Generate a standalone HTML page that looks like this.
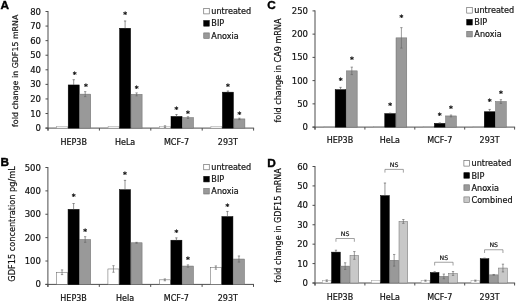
<!DOCTYPE html>
<html><head><meta charset="utf-8"><title>Figure</title>
<style>html,body{margin:0;padding:0;background:#fff}svg{display:block}</style></head>
<body><svg width="520" height="304" viewBox="0 0 520 304">
<rect width="520" height="304" fill="#fff"/>
<line x1="48" y1="11" x2="48" y2="130.6" stroke="#4d4d4d" stroke-width="1"/>
<line x1="45.5" y1="128.1" x2="254.1" y2="128.1" stroke="#4d4d4d" stroke-width="1"/>
<line x1="45.5" y1="128.1" x2="48" y2="128.1" stroke="#4d4d4d" stroke-width="1"/>
<text x="41" y="131.1" font-size="8.5" text-anchor="end" font-family="DejaVu Sans, Liberation Sans, sans-serif" stroke="#111" stroke-width="0.2" fill="#111">0</text>
<line x1="45.5" y1="113.52" x2="48" y2="113.52" stroke="#4d4d4d" stroke-width="1"/>
<text x="41" y="116.52" font-size="8.5" text-anchor="end" font-family="DejaVu Sans, Liberation Sans, sans-serif" stroke="#111" stroke-width="0.2" fill="#111">10</text>
<line x1="45.5" y1="98.95" x2="48" y2="98.95" stroke="#4d4d4d" stroke-width="1"/>
<text x="41" y="101.95" font-size="8.5" text-anchor="end" font-family="DejaVu Sans, Liberation Sans, sans-serif" stroke="#111" stroke-width="0.2" fill="#111">20</text>
<line x1="45.5" y1="84.38" x2="48" y2="84.38" stroke="#4d4d4d" stroke-width="1"/>
<text x="41" y="87.38" font-size="8.5" text-anchor="end" font-family="DejaVu Sans, Liberation Sans, sans-serif" stroke="#111" stroke-width="0.2" fill="#111">30</text>
<line x1="45.5" y1="69.8" x2="48" y2="69.8" stroke="#4d4d4d" stroke-width="1"/>
<text x="41" y="72.8" font-size="8.5" text-anchor="end" font-family="DejaVu Sans, Liberation Sans, sans-serif" stroke="#111" stroke-width="0.2" fill="#111">40</text>
<line x1="45.5" y1="55.22" x2="48" y2="55.22" stroke="#4d4d4d" stroke-width="1"/>
<text x="41" y="58.22" font-size="8.5" text-anchor="end" font-family="DejaVu Sans, Liberation Sans, sans-serif" stroke="#111" stroke-width="0.2" fill="#111">50</text>
<line x1="45.5" y1="40.65" x2="48" y2="40.65" stroke="#4d4d4d" stroke-width="1"/>
<text x="41" y="43.65" font-size="8.5" text-anchor="end" font-family="DejaVu Sans, Liberation Sans, sans-serif" stroke="#111" stroke-width="0.2" fill="#111">60</text>
<line x1="45.5" y1="26.07" x2="48" y2="26.07" stroke="#4d4d4d" stroke-width="1"/>
<text x="41" y="29.07" font-size="8.5" text-anchor="end" font-family="DejaVu Sans, Liberation Sans, sans-serif" stroke="#111" stroke-width="0.2" fill="#111">70</text>
<line x1="45.5" y1="11.5" x2="48" y2="11.5" stroke="#4d4d4d" stroke-width="1"/>
<text x="41" y="14.5" font-size="8.5" text-anchor="end" font-family="DejaVu Sans, Liberation Sans, sans-serif" stroke="#111" stroke-width="0.2" fill="#111">80</text>
<line x1="48" y1="128.1" x2="48" y2="130.6" stroke="#4d4d4d" stroke-width="1"/>
<line x1="99.4" y1="128.1" x2="99.4" y2="130.6" stroke="#4d4d4d" stroke-width="1"/>
<line x1="150.8" y1="128.1" x2="150.8" y2="130.6" stroke="#4d4d4d" stroke-width="1"/>
<line x1="202.2" y1="128.1" x2="202.2" y2="130.6" stroke="#4d4d4d" stroke-width="1"/>
<line x1="253.6" y1="128.1" x2="253.6" y2="130.6" stroke="#4d4d4d" stroke-width="1"/>
<text x="73.7" y="144.8" font-size="8.0" text-anchor="middle" font-family="DejaVu Sans, Liberation Sans, sans-serif" stroke="#111" stroke-width="0.2" fill="#111">HEP3B</text>
<text x="125.1" y="144.8" font-size="8.0" text-anchor="middle" font-family="DejaVu Sans, Liberation Sans, sans-serif" stroke="#111" stroke-width="0.2" fill="#111">HeLa</text>
<text x="176.5" y="144.8" font-size="8.0" text-anchor="middle" font-family="DejaVu Sans, Liberation Sans, sans-serif" stroke="#111" stroke-width="0.2" fill="#111">MCF-7</text>
<text x="227.9" y="144.8" font-size="8.0" text-anchor="middle" font-family="DejaVu Sans, Liberation Sans, sans-serif" stroke="#111" stroke-width="0.2" fill="#111">293T</text>
<rect x="56.7" y="126.64" width="11" height="1.46" fill="#fff" stroke="#9a9a9a" stroke-width="0.5"/>
<rect x="68.2" y="84.96" width="11" height="43.14" fill="#000" stroke="#000" stroke-width="0.5"/>
<line x1="73.7" y1="79.71" x2="73.7" y2="84.96" stroke="#5a5a5a" stroke-width="0.65"/>
<line x1="72.55" y1="79.71" x2="74.85" y2="79.71" stroke="#5a5a5a" stroke-width="0.65"/>
<text x="74.6" y="76.64" font-size="7.3" font-weight="bold" text-anchor="middle" font-family="DejaVu Sans, Liberation Sans, sans-serif" stroke="#111" stroke-width="0.2" fill="#000">*</text>
<rect x="79.7" y="94.14" width="11" height="33.96" fill="#999" stroke="#6a6a6a" stroke-width="0.5"/>
<line x1="85.2" y1="91.66" x2="85.2" y2="96.62" stroke="#666" stroke-width="0.65"/>
<line x1="84.05" y1="91.66" x2="86.35" y2="91.66" stroke="#666" stroke-width="0.65"/>
<line x1="84.05" y1="96.62" x2="86.35" y2="96.62" stroke="#666" stroke-width="0.65"/>
<text x="86" y="88.88" font-size="7.3" font-weight="bold" text-anchor="middle" font-family="DejaVu Sans, Liberation Sans, sans-serif" stroke="#111" stroke-width="0.2" fill="#000">*</text>
<rect x="108.1" y="126.64" width="11" height="1.46" fill="#fff" stroke="#9a9a9a" stroke-width="0.5"/>
<rect x="119.6" y="28.26" width="11" height="99.84" fill="#000" stroke="#000" stroke-width="0.5"/>
<line x1="125.1" y1="20.97" x2="125.1" y2="28.26" stroke="#5a5a5a" stroke-width="0.65"/>
<line x1="123.95" y1="20.97" x2="126.25" y2="20.97" stroke="#5a5a5a" stroke-width="0.65"/>
<text x="125.1" y="16.66" font-size="7.3" font-weight="bold" text-anchor="middle" font-family="DejaVu Sans, Liberation Sans, sans-serif" stroke="#111" stroke-width="0.2" fill="#000">*</text>
<rect x="131.1" y="94.36" width="11" height="33.74" fill="#999" stroke="#6a6a6a" stroke-width="0.5"/>
<line x1="136.6" y1="92.9" x2="136.6" y2="95.82" stroke="#666" stroke-width="0.65"/>
<line x1="135.45" y1="92.9" x2="137.75" y2="92.9" stroke="#666" stroke-width="0.65"/>
<line x1="135.45" y1="95.82" x2="137.75" y2="95.82" stroke="#666" stroke-width="0.65"/>
<text x="136.6" y="91.36" font-size="7.3" font-weight="bold" text-anchor="middle" font-family="DejaVu Sans, Liberation Sans, sans-serif" stroke="#111" stroke-width="0.2" fill="#000">*</text>
<rect x="159.5" y="126.64" width="11" height="1.46" fill="#fff" stroke="#9a9a9a" stroke-width="0.5"/>
<line x1="165" y1="125.77" x2="165" y2="127.52" stroke="#666" stroke-width="0.65"/>
<line x1="163.85" y1="125.77" x2="166.15" y2="125.77" stroke="#666" stroke-width="0.65"/>
<line x1="163.85" y1="127.52" x2="166.15" y2="127.52" stroke="#666" stroke-width="0.65"/>
<rect x="171" y="116.44" width="11" height="11.66" fill="#000" stroke="#000" stroke-width="0.5"/>
<line x1="176.5" y1="114.55" x2="176.5" y2="116.44" stroke="#5a5a5a" stroke-width="0.65"/>
<line x1="175.35" y1="114.55" x2="177.65" y2="114.55" stroke="#5a5a5a" stroke-width="0.65"/>
<text x="176.5" y="112.2" font-size="7.3" font-weight="bold" text-anchor="middle" font-family="DejaVu Sans, Liberation Sans, sans-serif" stroke="#111" stroke-width="0.2" fill="#000">*</text>
<rect x="182.5" y="117.61" width="11" height="10.49" fill="#999" stroke="#6a6a6a" stroke-width="0.5"/>
<line x1="188" y1="116.73" x2="188" y2="118.48" stroke="#666" stroke-width="0.65"/>
<line x1="186.85" y1="116.73" x2="189.15" y2="116.73" stroke="#666" stroke-width="0.65"/>
<line x1="186.85" y1="118.48" x2="189.15" y2="118.48" stroke="#666" stroke-width="0.65"/>
<text x="188" y="115.63" font-size="7.3" font-weight="bold" text-anchor="middle" font-family="DejaVu Sans, Liberation Sans, sans-serif" stroke="#111" stroke-width="0.2" fill="#000">*</text>
<rect x="210.9" y="126.64" width="11" height="1.46" fill="#fff" stroke="#9a9a9a" stroke-width="0.5"/>
<rect x="222.4" y="92.17" width="11" height="35.93" fill="#000" stroke="#000" stroke-width="0.5"/>
<line x1="227.9" y1="91.01" x2="227.9" y2="92.17" stroke="#5a5a5a" stroke-width="0.65"/>
<line x1="226.75" y1="91.01" x2="229.05" y2="91.01" stroke="#5a5a5a" stroke-width="0.65"/>
<text x="227.9" y="88.88" font-size="7.3" font-weight="bold" text-anchor="middle" font-family="DejaVu Sans, Liberation Sans, sans-serif" stroke="#111" stroke-width="0.2" fill="#000">*</text>
<rect x="233.9" y="118.92" width="11" height="9.18" fill="#999" stroke="#6a6a6a" stroke-width="0.5"/>
<line x1="239.4" y1="118.19" x2="239.4" y2="119.65" stroke="#666" stroke-width="0.65"/>
<line x1="238.25" y1="118.19" x2="240.55" y2="118.19" stroke="#666" stroke-width="0.65"/>
<line x1="238.25" y1="119.65" x2="240.55" y2="119.65" stroke="#666" stroke-width="0.65"/>
<text x="239.4" y="117.16" font-size="7.3" font-weight="bold" text-anchor="middle" font-family="DejaVu Sans, Liberation Sans, sans-serif" stroke="#111" stroke-width="0.2" fill="#000">*</text>
<text transform="translate(17.6 70.75) rotate(-90)" font-size="7.9" text-anchor="middle" font-family="DejaVu Sans, Liberation Sans, sans-serif" stroke="#111" stroke-width="0.2" fill="#111">fold change in GDF15 mRNA</text>
<text x="0.4" y="9" font-size="11.8" font-weight="bold" font-family="Liberation Sans, Arial, sans-serif" fill="#000" stroke="#000" stroke-width="0.4">A</text>
<rect x="203.75" y="8.4" width="5.5" height="5.5" fill="#fff" stroke="#5a5a5a" stroke-width="0.6"/>
<text x="211.35" y="14.2" font-size="8.1" font-family="DejaVu Sans, Liberation Sans, sans-serif" stroke="#111" stroke-width="0.2" fill="#111">untreated</text>
<rect x="203.75" y="20.65" width="5.5" height="5.5" fill="#000" stroke="#000" stroke-width="0.6"/>
<text x="211.35" y="26.45" font-size="8.1" font-family="DejaVu Sans, Liberation Sans, sans-serif" stroke="#111" stroke-width="0.2" fill="#111">BIP</text>
<rect x="203.75" y="32.9" width="5.5" height="5.5" fill="#999" stroke="#6a6a6a" stroke-width="0.6"/>
<text x="211.35" y="38.7" font-size="8.1" font-family="DejaVu Sans, Liberation Sans, sans-serif" stroke="#111" stroke-width="0.2" fill="#111">Anoxia</text>
<line x1="47.9" y1="167" x2="47.9" y2="286.9" stroke="#4d4d4d" stroke-width="1"/>
<line x1="45.4" y1="284.4" x2="254" y2="284.4" stroke="#4d4d4d" stroke-width="1"/>
<line x1="45.4" y1="284.4" x2="47.9" y2="284.4" stroke="#4d4d4d" stroke-width="1"/>
<text x="40.9" y="287.4" font-size="8.5" text-anchor="end" font-family="DejaVu Sans, Liberation Sans, sans-serif" stroke="#111" stroke-width="0.2" fill="#111">0</text>
<line x1="45.4" y1="261.02" x2="47.9" y2="261.02" stroke="#4d4d4d" stroke-width="1"/>
<text x="40.9" y="264.02" font-size="8.5" text-anchor="end" font-family="DejaVu Sans, Liberation Sans, sans-serif" stroke="#111" stroke-width="0.2" fill="#111">100</text>
<line x1="45.4" y1="237.64" x2="47.9" y2="237.64" stroke="#4d4d4d" stroke-width="1"/>
<text x="40.9" y="240.64" font-size="8.5" text-anchor="end" font-family="DejaVu Sans, Liberation Sans, sans-serif" stroke="#111" stroke-width="0.2" fill="#111">200</text>
<line x1="45.4" y1="214.26" x2="47.9" y2="214.26" stroke="#4d4d4d" stroke-width="1"/>
<text x="40.9" y="217.26" font-size="8.5" text-anchor="end" font-family="DejaVu Sans, Liberation Sans, sans-serif" stroke="#111" stroke-width="0.2" fill="#111">300</text>
<line x1="45.4" y1="190.88" x2="47.9" y2="190.88" stroke="#4d4d4d" stroke-width="1"/>
<text x="40.9" y="193.88" font-size="8.5" text-anchor="end" font-family="DejaVu Sans, Liberation Sans, sans-serif" stroke="#111" stroke-width="0.2" fill="#111">400</text>
<line x1="45.4" y1="167.5" x2="47.9" y2="167.5" stroke="#4d4d4d" stroke-width="1"/>
<text x="40.9" y="170.5" font-size="8.5" text-anchor="end" font-family="DejaVu Sans, Liberation Sans, sans-serif" stroke="#111" stroke-width="0.2" fill="#111">500</text>
<line x1="47.9" y1="284.4" x2="47.9" y2="286.9" stroke="#4d4d4d" stroke-width="1"/>
<line x1="99.3" y1="284.4" x2="99.3" y2="286.9" stroke="#4d4d4d" stroke-width="1"/>
<line x1="150.7" y1="284.4" x2="150.7" y2="286.9" stroke="#4d4d4d" stroke-width="1"/>
<line x1="202.1" y1="284.4" x2="202.1" y2="286.9" stroke="#4d4d4d" stroke-width="1"/>
<line x1="253.5" y1="284.4" x2="253.5" y2="286.9" stroke="#4d4d4d" stroke-width="1"/>
<text x="73.6" y="300.9" font-size="8.0" text-anchor="middle" font-family="DejaVu Sans, Liberation Sans, sans-serif" stroke="#111" stroke-width="0.2" fill="#111">HEP3B</text>
<text x="125" y="300.9" font-size="8.0" text-anchor="middle" font-family="DejaVu Sans, Liberation Sans, sans-serif" stroke="#111" stroke-width="0.2" fill="#111">Hela</text>
<text x="176.4" y="300.9" font-size="8.0" text-anchor="middle" font-family="DejaVu Sans, Liberation Sans, sans-serif" stroke="#111" stroke-width="0.2" fill="#111">MCF-7</text>
<text x="227.8" y="300.9" font-size="8.0" text-anchor="middle" font-family="DejaVu Sans, Liberation Sans, sans-serif" stroke="#111" stroke-width="0.2" fill="#111">293T</text>
<rect x="56.52" y="272.24" width="11.05" height="12.16" fill="#fff" stroke="#5a5a5a" stroke-width="0.5"/>
<line x1="62.05" y1="269.9" x2="62.05" y2="274.58" stroke="#666" stroke-width="0.65"/>
<line x1="60.9" y1="269.9" x2="63.2" y2="269.9" stroke="#666" stroke-width="0.65"/>
<line x1="60.9" y1="274.58" x2="63.2" y2="274.58" stroke="#666" stroke-width="0.65"/>
<rect x="68.07" y="209.35" width="11.05" height="75.05" fill="#000" stroke="#000" stroke-width="0.5"/>
<line x1="73.6" y1="203.51" x2="73.6" y2="209.35" stroke="#5a5a5a" stroke-width="0.65"/>
<line x1="72.45" y1="203.51" x2="74.75" y2="203.51" stroke="#5a5a5a" stroke-width="0.65"/>
<text x="73.6" y="198.72" font-size="7.3" font-weight="bold" text-anchor="middle" font-family="DejaVu Sans, Liberation Sans, sans-serif" stroke="#111" stroke-width="0.2" fill="#000">*</text>
<rect x="79.62" y="239.51" width="11.05" height="44.89" fill="#999" stroke="#6a6a6a" stroke-width="0.5"/>
<line x1="85.15" y1="236.7" x2="85.15" y2="242.32" stroke="#666" stroke-width="0.65"/>
<line x1="84" y1="236.7" x2="86.3" y2="236.7" stroke="#666" stroke-width="0.65"/>
<line x1="84" y1="242.32" x2="86.3" y2="242.32" stroke="#666" stroke-width="0.65"/>
<text x="85.15" y="234.49" font-size="7.3" font-weight="bold" text-anchor="middle" font-family="DejaVu Sans, Liberation Sans, sans-serif" stroke="#111" stroke-width="0.2" fill="#000">*</text>
<rect x="107.92" y="268.97" width="11.05" height="15.43" fill="#fff" stroke="#5a5a5a" stroke-width="0.5"/>
<line x1="113.45" y1="265.7" x2="113.45" y2="272.24" stroke="#666" stroke-width="0.65"/>
<line x1="112.3" y1="265.7" x2="114.6" y2="265.7" stroke="#666" stroke-width="0.65"/>
<line x1="112.3" y1="272.24" x2="114.6" y2="272.24" stroke="#666" stroke-width="0.65"/>
<rect x="119.47" y="189.71" width="11.05" height="94.69" fill="#000" stroke="#000" stroke-width="0.5"/>
<line x1="125" y1="180.36" x2="125" y2="189.71" stroke="#5a5a5a" stroke-width="0.65"/>
<line x1="123.85" y1="180.36" x2="126.15" y2="180.36" stroke="#5a5a5a" stroke-width="0.65"/>
<text x="125" y="176.98" font-size="7.3" font-weight="bold" text-anchor="middle" font-family="DejaVu Sans, Liberation Sans, sans-serif" stroke="#111" stroke-width="0.2" fill="#000">*</text>
<rect x="131.03" y="242.78" width="11.05" height="41.62" fill="#999" stroke="#6a6a6a" stroke-width="0.5"/>
<line x1="136.55" y1="242.32" x2="136.55" y2="243.25" stroke="#666" stroke-width="0.65"/>
<line x1="135.4" y1="242.32" x2="137.7" y2="242.32" stroke="#666" stroke-width="0.65"/>
<line x1="135.4" y1="243.25" x2="137.7" y2="243.25" stroke="#666" stroke-width="0.65"/>
<rect x="159.32" y="279.84" width="11.05" height="4.56" fill="#fff" stroke="#5a5a5a" stroke-width="0.5"/>
<line x1="164.85" y1="278.91" x2="164.85" y2="280.78" stroke="#666" stroke-width="0.65"/>
<line x1="163.7" y1="278.91" x2="166" y2="278.91" stroke="#666" stroke-width="0.65"/>
<line x1="163.7" y1="280.78" x2="166" y2="280.78" stroke="#666" stroke-width="0.65"/>
<rect x="170.88" y="240.21" width="11.05" height="44.19" fill="#000" stroke="#000" stroke-width="0.5"/>
<line x1="176.4" y1="237.87" x2="176.4" y2="240.21" stroke="#5a5a5a" stroke-width="0.65"/>
<line x1="175.25" y1="237.87" x2="177.55" y2="237.87" stroke="#5a5a5a" stroke-width="0.65"/>
<text x="176.4" y="235.19" font-size="7.3" font-weight="bold" text-anchor="middle" font-family="DejaVu Sans, Liberation Sans, sans-serif" stroke="#111" stroke-width="0.2" fill="#000">*</text>
<rect x="182.42" y="266.05" width="11.05" height="18.35" fill="#999" stroke="#6a6a6a" stroke-width="0.5"/>
<line x1="187.95" y1="264.88" x2="187.95" y2="267.22" stroke="#666" stroke-width="0.65"/>
<line x1="186.8" y1="264.88" x2="189.1" y2="264.88" stroke="#666" stroke-width="0.65"/>
<line x1="186.8" y1="267.22" x2="189.1" y2="267.22" stroke="#666" stroke-width="0.65"/>
<text x="187.95" y="261.61" font-size="7.3" font-weight="bold" text-anchor="middle" font-family="DejaVu Sans, Liberation Sans, sans-serif" stroke="#111" stroke-width="0.2" fill="#000">*</text>
<rect x="210.32" y="267.57" width="11.05" height="16.83" fill="#fff" stroke="#5a5a5a" stroke-width="0.5"/>
<line x1="215.85" y1="265.93" x2="215.85" y2="269.2" stroke="#666" stroke-width="0.65"/>
<line x1="214.7" y1="265.93" x2="217" y2="265.93" stroke="#666" stroke-width="0.65"/>
<line x1="214.7" y1="269.2" x2="217" y2="269.2" stroke="#666" stroke-width="0.65"/>
<rect x="221.88" y="216.6" width="11.05" height="67.8" fill="#000" stroke="#000" stroke-width="0.5"/>
<line x1="227.4" y1="211.45" x2="227.4" y2="216.6" stroke="#5a5a5a" stroke-width="0.65"/>
<line x1="226.25" y1="211.45" x2="228.55" y2="211.45" stroke="#5a5a5a" stroke-width="0.65"/>
<text x="227.4" y="208.77" font-size="7.3" font-weight="bold" text-anchor="middle" font-family="DejaVu Sans, Liberation Sans, sans-serif" stroke="#111" stroke-width="0.2" fill="#000">*</text>
<rect x="233.42" y="259.03" width="11.05" height="25.37" fill="#999" stroke="#6a6a6a" stroke-width="0.5"/>
<line x1="238.95" y1="255.99" x2="238.95" y2="262.07" stroke="#666" stroke-width="0.65"/>
<line x1="237.8" y1="255.99" x2="240.1" y2="255.99" stroke="#666" stroke-width="0.65"/>
<line x1="237.8" y1="262.07" x2="240.1" y2="262.07" stroke="#666" stroke-width="0.65"/>
<text transform="translate(14.6 224) rotate(-90)" font-size="8.2" text-anchor="middle" font-family="DejaVu Sans, Liberation Sans, sans-serif" stroke="#111" stroke-width="0.2" fill="#111">GDF15 concentration pg/mL</text>
<text x="0.4" y="166" font-size="11.8" font-weight="bold" font-family="Liberation Sans, Arial, sans-serif" fill="#000" stroke="#000" stroke-width="0.4">B</text>
<rect x="203.75" y="164.3" width="5.5" height="5.5" fill="#fff" stroke="#5a5a5a" stroke-width="0.6"/>
<text x="211.35" y="170.1" font-size="8.1" font-family="DejaVu Sans, Liberation Sans, sans-serif" stroke="#111" stroke-width="0.2" fill="#111">untreated</text>
<rect x="203.75" y="176.4" width="5.5" height="5.5" fill="#000" stroke="#000" stroke-width="0.6"/>
<text x="211.35" y="182.2" font-size="8.1" font-family="DejaVu Sans, Liberation Sans, sans-serif" stroke="#111" stroke-width="0.2" fill="#111">BIP</text>
<rect x="203.75" y="188.5" width="5.5" height="5.5" fill="#999" stroke="#6a6a6a" stroke-width="0.6"/>
<text x="211.35" y="194.3" font-size="8.1" font-family="DejaVu Sans, Liberation Sans, sans-serif" stroke="#111" stroke-width="0.2" fill="#111">Anoxia</text>
<line x1="315" y1="10.4" x2="315" y2="129.6" stroke="#4d4d4d" stroke-width="1"/>
<line x1="312.5" y1="127.1" x2="515.1" y2="127.1" stroke="#4d4d4d" stroke-width="1"/>
<line x1="312.5" y1="127.1" x2="315" y2="127.1" stroke="#4d4d4d" stroke-width="1"/>
<text x="308" y="130.1" font-size="8.5" text-anchor="end" font-family="DejaVu Sans, Liberation Sans, sans-serif" stroke="#111" stroke-width="0.2" fill="#111">0</text>
<line x1="312.5" y1="103.86" x2="315" y2="103.86" stroke="#4d4d4d" stroke-width="1"/>
<text x="308" y="106.86" font-size="8.5" text-anchor="end" font-family="DejaVu Sans, Liberation Sans, sans-serif" stroke="#111" stroke-width="0.2" fill="#111">50</text>
<line x1="312.5" y1="80.62" x2="315" y2="80.62" stroke="#4d4d4d" stroke-width="1"/>
<text x="308" y="83.62" font-size="8.5" text-anchor="end" font-family="DejaVu Sans, Liberation Sans, sans-serif" stroke="#111" stroke-width="0.2" fill="#111">100</text>
<line x1="312.5" y1="57.38" x2="315" y2="57.38" stroke="#4d4d4d" stroke-width="1"/>
<text x="308" y="60.38" font-size="8.5" text-anchor="end" font-family="DejaVu Sans, Liberation Sans, sans-serif" stroke="#111" stroke-width="0.2" fill="#111">150</text>
<line x1="312.5" y1="34.14" x2="315" y2="34.14" stroke="#4d4d4d" stroke-width="1"/>
<text x="308" y="37.14" font-size="8.5" text-anchor="end" font-family="DejaVu Sans, Liberation Sans, sans-serif" stroke="#111" stroke-width="0.2" fill="#111">200</text>
<line x1="312.5" y1="10.9" x2="315" y2="10.9" stroke="#4d4d4d" stroke-width="1"/>
<text x="308" y="13.9" font-size="8.5" text-anchor="end" font-family="DejaVu Sans, Liberation Sans, sans-serif" stroke="#111" stroke-width="0.2" fill="#111">250</text>
<line x1="315" y1="127.1" x2="315" y2="129.6" stroke="#4d4d4d" stroke-width="1"/>
<line x1="364.9" y1="127.1" x2="364.9" y2="129.6" stroke="#4d4d4d" stroke-width="1"/>
<line x1="414.8" y1="127.1" x2="414.8" y2="129.6" stroke="#4d4d4d" stroke-width="1"/>
<line x1="464.7" y1="127.1" x2="464.7" y2="129.6" stroke="#4d4d4d" stroke-width="1"/>
<line x1="514.6" y1="127.1" x2="514.6" y2="129.6" stroke="#4d4d4d" stroke-width="1"/>
<text x="339.95" y="143.3" font-size="8.0" text-anchor="middle" font-family="DejaVu Sans, Liberation Sans, sans-serif" stroke="#111" stroke-width="0.2" fill="#111">HEP3B</text>
<text x="389.85" y="143.3" font-size="8.0" text-anchor="middle" font-family="DejaVu Sans, Liberation Sans, sans-serif" stroke="#111" stroke-width="0.2" fill="#111">HeLa</text>
<text x="439.75" y="143.3" font-size="8.0" text-anchor="middle" font-family="DejaVu Sans, Liberation Sans, sans-serif" stroke="#111" stroke-width="0.2" fill="#111">MCF-7</text>
<text x="489.65" y="143.3" font-size="8.0" text-anchor="middle" font-family="DejaVu Sans, Liberation Sans, sans-serif" stroke="#111" stroke-width="0.2" fill="#111">293T</text>
<rect x="323.93" y="126.64" width="10.75" height="0.46" fill="#fff" stroke="#9a9a9a" stroke-width="0.5"/>
<rect x="335.18" y="89.68" width="10.75" height="37.42" fill="#000" stroke="#000" stroke-width="0.5"/>
<line x1="340.55" y1="87.36" x2="340.55" y2="89.68" stroke="#5a5a5a" stroke-width="0.65"/>
<line x1="339.4" y1="87.36" x2="341.7" y2="87.36" stroke="#5a5a5a" stroke-width="0.65"/>
<text x="340.55" y="83.1" font-size="7.3" font-weight="bold" text-anchor="middle" font-family="DejaVu Sans, Liberation Sans, sans-serif" stroke="#111" stroke-width="0.2" fill="#000">*</text>
<rect x="346.43" y="70.86" width="10.75" height="56.24" fill="#999" stroke="#6a6a6a" stroke-width="0.5"/>
<line x1="351.8" y1="67.14" x2="351.8" y2="74.58" stroke="#666" stroke-width="0.65"/>
<line x1="350.65" y1="67.14" x2="352.95" y2="67.14" stroke="#666" stroke-width="0.65"/>
<line x1="350.65" y1="74.58" x2="352.95" y2="74.58" stroke="#666" stroke-width="0.65"/>
<text x="351.8" y="62.18" font-size="7.3" font-weight="bold" text-anchor="middle" font-family="DejaVu Sans, Liberation Sans, sans-serif" stroke="#111" stroke-width="0.2" fill="#000">*</text>
<rect x="373.52" y="126.64" width="10.75" height="0.46" fill="#fff" stroke="#9a9a9a" stroke-width="0.5"/>
<rect x="384.77" y="113.62" width="10.75" height="13.48" fill="#000" stroke="#000" stroke-width="0.5"/>
<line x1="390.15" y1="113.16" x2="390.15" y2="113.62" stroke="#5a5a5a" stroke-width="0.65"/>
<line x1="389" y1="113.16" x2="391.3" y2="113.16" stroke="#5a5a5a" stroke-width="0.65"/>
<text x="390.15" y="108.06" font-size="7.3" font-weight="bold" text-anchor="middle" font-family="DejaVu Sans, Liberation Sans, sans-serif" stroke="#111" stroke-width="0.2" fill="#000">*</text>
<rect x="396.02" y="37.86" width="10.75" height="89.24" fill="#999" stroke="#6a6a6a" stroke-width="0.5"/>
<line x1="401.4" y1="27.63" x2="401.4" y2="48.08" stroke="#666" stroke-width="0.65"/>
<line x1="400.25" y1="27.63" x2="402.55" y2="27.63" stroke="#666" stroke-width="0.65"/>
<line x1="400.25" y1="48.08" x2="402.55" y2="48.08" stroke="#666" stroke-width="0.65"/>
<text x="401.4" y="19.79" font-size="7.3" font-weight="bold" text-anchor="middle" font-family="DejaVu Sans, Liberation Sans, sans-serif" stroke="#111" stroke-width="0.2" fill="#000">*</text>
<rect x="423.12" y="126.64" width="10.75" height="0.46" fill="#fff" stroke="#9a9a9a" stroke-width="0.5"/>
<rect x="434.38" y="123.38" width="10.75" height="3.72" fill="#000" stroke="#000" stroke-width="0.5"/>
<line x1="439.75" y1="122.92" x2="439.75" y2="123.38" stroke="#5a5a5a" stroke-width="0.65"/>
<line x1="438.6" y1="122.92" x2="440.9" y2="122.92" stroke="#5a5a5a" stroke-width="0.65"/>
<text x="439.75" y="117.63" font-size="7.3" font-weight="bold" text-anchor="middle" font-family="DejaVu Sans, Liberation Sans, sans-serif" stroke="#111" stroke-width="0.2" fill="#000">*</text>
<rect x="445.62" y="115.94" width="10.75" height="11.16" fill="#999" stroke="#6a6a6a" stroke-width="0.5"/>
<line x1="451" y1="115.02" x2="451" y2="116.87" stroke="#666" stroke-width="0.65"/>
<line x1="449.85" y1="115.02" x2="452.15" y2="115.02" stroke="#666" stroke-width="0.65"/>
<line x1="449.85" y1="116.87" x2="452.15" y2="116.87" stroke="#666" stroke-width="0.65"/>
<text x="451" y="111.17" font-size="7.3" font-weight="bold" text-anchor="middle" font-family="DejaVu Sans, Liberation Sans, sans-serif" stroke="#111" stroke-width="0.2" fill="#000">*</text>
<rect x="473.03" y="126.64" width="10.75" height="0.46" fill="#fff" stroke="#9a9a9a" stroke-width="0.5"/>
<rect x="484.28" y="111.76" width="10.75" height="15.34" fill="#000" stroke="#000" stroke-width="0.5"/>
<line x1="489.65" y1="109.44" x2="489.65" y2="111.76" stroke="#5a5a5a" stroke-width="0.65"/>
<line x1="488.5" y1="109.44" x2="490.8" y2="109.44" stroke="#5a5a5a" stroke-width="0.65"/>
<text x="489.65" y="104.2" font-size="7.3" font-weight="bold" text-anchor="middle" font-family="DejaVu Sans, Liberation Sans, sans-serif" stroke="#111" stroke-width="0.2" fill="#000">*</text>
<rect x="495.53" y="101.54" width="10.75" height="25.56" fill="#999" stroke="#6a6a6a" stroke-width="0.5"/>
<line x1="500.9" y1="99.68" x2="500.9" y2="103.4" stroke="#666" stroke-width="0.65"/>
<line x1="499.75" y1="99.68" x2="502.05" y2="99.68" stroke="#666" stroke-width="0.65"/>
<line x1="499.75" y1="103.4" x2="502.05" y2="103.4" stroke="#666" stroke-width="0.65"/>
<text x="500.9" y="95.83" font-size="7.3" font-weight="bold" text-anchor="middle" font-family="DejaVu Sans, Liberation Sans, sans-serif" stroke="#111" stroke-width="0.2" fill="#000">*</text>
<text transform="translate(281 70.5) rotate(-90)" font-size="8.1" text-anchor="middle" font-family="DejaVu Sans, Liberation Sans, sans-serif" stroke="#111" stroke-width="0.2" fill="#111">fold change in CA9 mRNA</text>
<text x="267.3" y="9" font-size="11.8" font-weight="bold" font-family="Liberation Sans, Arial, sans-serif" fill="#000" stroke="#000" stroke-width="0.4">C</text>
<rect x="466.75" y="7.6" width="5.5" height="5.5" fill="#fff" stroke="#5a5a5a" stroke-width="0.6"/>
<text x="474.35" y="13.4" font-size="8.1" font-family="DejaVu Sans, Liberation Sans, sans-serif" stroke="#111" stroke-width="0.2" fill="#111">untreated</text>
<rect x="466.75" y="19.5" width="5.5" height="5.5" fill="#000" stroke="#000" stroke-width="0.6"/>
<text x="474.35" y="25.3" font-size="8.1" font-family="DejaVu Sans, Liberation Sans, sans-serif" stroke="#111" stroke-width="0.2" fill="#111">BIP</text>
<rect x="466.75" y="31.4" width="5.5" height="5.5" fill="#999" stroke="#6a6a6a" stroke-width="0.6"/>
<text x="474.35" y="37.2" font-size="8.1" font-family="DejaVu Sans, Liberation Sans, sans-serif" stroke="#111" stroke-width="0.2" fill="#111">Anoxia</text>
<line x1="315" y1="166" x2="315" y2="285.5" stroke="#4d4d4d" stroke-width="1"/>
<line x1="312.5" y1="283" x2="515.1" y2="283" stroke="#4d4d4d" stroke-width="1"/>
<line x1="312.5" y1="283" x2="315" y2="283" stroke="#4d4d4d" stroke-width="1"/>
<text x="308" y="286" font-size="8.5" text-anchor="end" font-family="DejaVu Sans, Liberation Sans, sans-serif" stroke="#111" stroke-width="0.2" fill="#111">0</text>
<line x1="312.5" y1="263.58" x2="315" y2="263.58" stroke="#4d4d4d" stroke-width="1"/>
<text x="308" y="266.58" font-size="8.5" text-anchor="end" font-family="DejaVu Sans, Liberation Sans, sans-serif" stroke="#111" stroke-width="0.2" fill="#111">10</text>
<line x1="312.5" y1="244.17" x2="315" y2="244.17" stroke="#4d4d4d" stroke-width="1"/>
<text x="308" y="247.17" font-size="8.5" text-anchor="end" font-family="DejaVu Sans, Liberation Sans, sans-serif" stroke="#111" stroke-width="0.2" fill="#111">20</text>
<line x1="312.5" y1="224.75" x2="315" y2="224.75" stroke="#4d4d4d" stroke-width="1"/>
<text x="308" y="227.75" font-size="8.5" text-anchor="end" font-family="DejaVu Sans, Liberation Sans, sans-serif" stroke="#111" stroke-width="0.2" fill="#111">30</text>
<line x1="312.5" y1="205.33" x2="315" y2="205.33" stroke="#4d4d4d" stroke-width="1"/>
<text x="308" y="208.33" font-size="8.5" text-anchor="end" font-family="DejaVu Sans, Liberation Sans, sans-serif" stroke="#111" stroke-width="0.2" fill="#111">40</text>
<line x1="312.5" y1="185.92" x2="315" y2="185.92" stroke="#4d4d4d" stroke-width="1"/>
<text x="308" y="188.92" font-size="8.5" text-anchor="end" font-family="DejaVu Sans, Liberation Sans, sans-serif" stroke="#111" stroke-width="0.2" fill="#111">50</text>
<line x1="312.5" y1="166.5" x2="315" y2="166.5" stroke="#4d4d4d" stroke-width="1"/>
<text x="308" y="169.5" font-size="8.5" text-anchor="end" font-family="DejaVu Sans, Liberation Sans, sans-serif" stroke="#111" stroke-width="0.2" fill="#111">60</text>
<line x1="315" y1="283" x2="315" y2="285.5" stroke="#4d4d4d" stroke-width="1"/>
<line x1="364.9" y1="283" x2="364.9" y2="285.5" stroke="#4d4d4d" stroke-width="1"/>
<line x1="414.8" y1="283" x2="414.8" y2="285.5" stroke="#4d4d4d" stroke-width="1"/>
<line x1="464.7" y1="283" x2="464.7" y2="285.5" stroke="#4d4d4d" stroke-width="1"/>
<line x1="514.6" y1="283" x2="514.6" y2="285.5" stroke="#4d4d4d" stroke-width="1"/>
<text x="339.95" y="299.8" font-size="8.0" text-anchor="middle" font-family="DejaVu Sans, Liberation Sans, sans-serif" stroke="#111" stroke-width="0.2" fill="#111">HEP3B</text>
<text x="389.85" y="299.8" font-size="8.0" text-anchor="middle" font-family="DejaVu Sans, Liberation Sans, sans-serif" stroke="#111" stroke-width="0.2" fill="#111">HeLa</text>
<text x="439.75" y="299.8" font-size="8.0" text-anchor="middle" font-family="DejaVu Sans, Liberation Sans, sans-serif" stroke="#111" stroke-width="0.2" fill="#111">MCF-7</text>
<text x="489.65" y="299.8" font-size="8.0" text-anchor="middle" font-family="DejaVu Sans, Liberation Sans, sans-serif" stroke="#111" stroke-width="0.2" fill="#111">293T</text>
<rect x="322.4" y="280.67" width="8.7" height="2.33" fill="#fff" stroke="#9a9a9a" stroke-width="0.5"/>
<line x1="326.75" y1="279.89" x2="326.75" y2="281.45" stroke="#666" stroke-width="0.65"/>
<line x1="325.6" y1="279.89" x2="327.9" y2="279.89" stroke="#666" stroke-width="0.65"/>
<line x1="325.6" y1="281.45" x2="327.9" y2="281.45" stroke="#666" stroke-width="0.65"/>
<rect x="331.6" y="252.13" width="8.7" height="30.87" fill="#000" stroke="#000" stroke-width="0.5"/>
<line x1="335.95" y1="250.19" x2="335.95" y2="252.13" stroke="#5a5a5a" stroke-width="0.65"/>
<line x1="334.8" y1="250.19" x2="337.1" y2="250.19" stroke="#5a5a5a" stroke-width="0.65"/>
<rect x="340.8" y="266.11" width="8.7" height="16.89" fill="#999" stroke="#6a6a6a" stroke-width="0.5"/>
<line x1="345.15" y1="262.81" x2="345.15" y2="269.41" stroke="#666" stroke-width="0.65"/>
<line x1="344" y1="262.81" x2="346.3" y2="262.81" stroke="#666" stroke-width="0.65"/>
<line x1="344" y1="269.41" x2="346.3" y2="269.41" stroke="#666" stroke-width="0.65"/>
<rect x="350" y="255.43" width="8.7" height="27.57" fill="#c8c8c8" stroke="#6e6e6e" stroke-width="0.5"/>
<line x1="354.35" y1="251.55" x2="354.35" y2="259.31" stroke="#666" stroke-width="0.65"/>
<line x1="353.2" y1="251.55" x2="355.5" y2="251.55" stroke="#666" stroke-width="0.65"/>
<line x1="353.2" y1="259.31" x2="355.5" y2="259.31" stroke="#666" stroke-width="0.65"/>
<rect x="371.4" y="280.67" width="8.7" height="2.33" fill="#fff" stroke="#9a9a9a" stroke-width="0.5"/>
<rect x="380.6" y="195.62" width="8.7" height="87.38" fill="#000" stroke="#000" stroke-width="0.5"/>
<line x1="384.95" y1="183" x2="384.95" y2="195.62" stroke="#5a5a5a" stroke-width="0.65"/>
<line x1="383.8" y1="183" x2="386.1" y2="183" stroke="#5a5a5a" stroke-width="0.65"/>
<rect x="389.8" y="260.28" width="8.7" height="22.72" fill="#999" stroke="#6a6a6a" stroke-width="0.5"/>
<line x1="394.15" y1="254.46" x2="394.15" y2="266.11" stroke="#666" stroke-width="0.65"/>
<line x1="393" y1="254.46" x2="395.3" y2="254.46" stroke="#666" stroke-width="0.65"/>
<line x1="393" y1="266.11" x2="395.3" y2="266.11" stroke="#666" stroke-width="0.65"/>
<rect x="399" y="221.45" width="8.7" height="61.55" fill="#c8c8c8" stroke="#6e6e6e" stroke-width="0.5"/>
<line x1="403.35" y1="219.51" x2="403.35" y2="223.39" stroke="#666" stroke-width="0.65"/>
<line x1="402.2" y1="219.51" x2="404.5" y2="219.51" stroke="#666" stroke-width="0.65"/>
<line x1="402.2" y1="223.39" x2="404.5" y2="223.39" stroke="#666" stroke-width="0.65"/>
<rect x="421.1" y="280.67" width="8.7" height="2.33" fill="#fff" stroke="#9a9a9a" stroke-width="0.5"/>
<line x1="425.45" y1="280.09" x2="425.45" y2="281.25" stroke="#666" stroke-width="0.65"/>
<line x1="424.3" y1="280.09" x2="426.6" y2="280.09" stroke="#666" stroke-width="0.65"/>
<line x1="424.3" y1="281.25" x2="426.6" y2="281.25" stroke="#666" stroke-width="0.65"/>
<rect x="430.3" y="272.51" width="8.7" height="10.49" fill="#000" stroke="#000" stroke-width="0.5"/>
<line x1="434.65" y1="271.74" x2="434.65" y2="272.51" stroke="#5a5a5a" stroke-width="0.65"/>
<line x1="433.5" y1="271.74" x2="435.8" y2="271.74" stroke="#5a5a5a" stroke-width="0.65"/>
<rect x="439.5" y="276.4" width="8.7" height="6.6" fill="#999" stroke="#6a6a6a" stroke-width="0.5"/>
<line x1="443.85" y1="274.07" x2="443.85" y2="278.73" stroke="#666" stroke-width="0.65"/>
<line x1="442.7" y1="274.07" x2="445" y2="274.07" stroke="#666" stroke-width="0.65"/>
<line x1="442.7" y1="278.73" x2="445" y2="278.73" stroke="#666" stroke-width="0.65"/>
<rect x="448.7" y="273.49" width="8.7" height="9.51" fill="#c8c8c8" stroke="#6e6e6e" stroke-width="0.5"/>
<line x1="453.05" y1="271.54" x2="453.05" y2="275.43" stroke="#666" stroke-width="0.65"/>
<line x1="451.9" y1="271.54" x2="454.2" y2="271.54" stroke="#666" stroke-width="0.65"/>
<line x1="451.9" y1="275.43" x2="454.2" y2="275.43" stroke="#666" stroke-width="0.65"/>
<rect x="471" y="280.67" width="8.7" height="2.33" fill="#fff" stroke="#9a9a9a" stroke-width="0.5"/>
<line x1="475.35" y1="280.09" x2="475.35" y2="281.25" stroke="#666" stroke-width="0.65"/>
<line x1="474.2" y1="280.09" x2="476.5" y2="280.09" stroke="#666" stroke-width="0.65"/>
<line x1="474.2" y1="281.25" x2="476.5" y2="281.25" stroke="#666" stroke-width="0.65"/>
<rect x="480.2" y="258.73" width="8.7" height="24.27" fill="#000" stroke="#000" stroke-width="0.5"/>
<line x1="484.55" y1="258.15" x2="484.55" y2="258.73" stroke="#5a5a5a" stroke-width="0.65"/>
<line x1="483.4" y1="258.15" x2="485.7" y2="258.15" stroke="#5a5a5a" stroke-width="0.65"/>
<rect x="489.4" y="274.85" width="8.7" height="8.16" fill="#999" stroke="#6a6a6a" stroke-width="0.5"/>
<line x1="493.75" y1="274.46" x2="493.75" y2="275.23" stroke="#666" stroke-width="0.65"/>
<line x1="492.6" y1="274.46" x2="494.9" y2="274.46" stroke="#666" stroke-width="0.65"/>
<line x1="492.6" y1="275.23" x2="494.9" y2="275.23" stroke="#666" stroke-width="0.65"/>
<rect x="498.6" y="268.05" width="8.7" height="14.95" fill="#c8c8c8" stroke="#6e6e6e" stroke-width="0.5"/>
<line x1="502.95" y1="264.17" x2="502.95" y2="271.93" stroke="#666" stroke-width="0.65"/>
<line x1="501.8" y1="264.17" x2="504.1" y2="264.17" stroke="#666" stroke-width="0.65"/>
<line x1="501.8" y1="271.93" x2="504.1" y2="271.93" stroke="#666" stroke-width="0.65"/>
<path d="M335.95 241.75V238.5H354.35V241.75" fill="none" stroke="#707070" stroke-width="0.65"/>
<text x="345.15" y="236.2" font-size="6.2" text-anchor="middle" font-family="DejaVu Sans, Liberation Sans, sans-serif" stroke="#111" stroke-width="0.2" fill="#111">NS</text>
<path d="M384.95 172.6V169.4H403.35V172.6" fill="none" stroke="#707070" stroke-width="0.65"/>
<text x="394.15" y="167.1" font-size="6.2" text-anchor="middle" font-family="DejaVu Sans, Liberation Sans, sans-serif" stroke="#111" stroke-width="0.2" fill="#111">NS</text>
<path d="M434.65 265.5V262.25H453.05V265.5" fill="none" stroke="#707070" stroke-width="0.65"/>
<text x="443.85" y="259.95" font-size="6.2" text-anchor="middle" font-family="DejaVu Sans, Liberation Sans, sans-serif" stroke="#111" stroke-width="0.2" fill="#111">NS</text>
<path d="M484.55 253V249.75H502.95V253" fill="none" stroke="#707070" stroke-width="0.65"/>
<text x="493.75" y="247.45" font-size="6.2" text-anchor="middle" font-family="DejaVu Sans, Liberation Sans, sans-serif" stroke="#111" stroke-width="0.2" fill="#111">NS</text>
<text transform="translate(280.8 225.4) rotate(-90)" font-size="8.05" text-anchor="middle" font-family="DejaVu Sans, Liberation Sans, sans-serif" stroke="#111" stroke-width="0.2" fill="#111">fold change in GDF15 mRNA</text>
<text x="267.3" y="166.6" font-size="11.8" font-weight="bold" font-family="Liberation Sans, Arial, sans-serif" fill="#000" stroke="#000" stroke-width="0.4">D</text>
<rect x="463.9" y="160.6" width="5.5" height="5.5" fill="#fff" stroke="#5a5a5a" stroke-width="0.6"/>
<text x="471.5" y="166.4" font-size="8.1" font-family="DejaVu Sans, Liberation Sans, sans-serif" stroke="#111" stroke-width="0.2" fill="#111">untreated</text>
<rect x="463.9" y="172.7" width="5.5" height="5.5" fill="#000" stroke="#000" stroke-width="0.6"/>
<text x="471.5" y="178.5" font-size="8.1" font-family="DejaVu Sans, Liberation Sans, sans-serif" stroke="#111" stroke-width="0.2" fill="#111">BIP</text>
<rect x="463.9" y="184.8" width="5.5" height="5.5" fill="#999" stroke="#6a6a6a" stroke-width="0.6"/>
<text x="471.5" y="190.6" font-size="8.1" font-family="DejaVu Sans, Liberation Sans, sans-serif" stroke="#111" stroke-width="0.2" fill="#111">Anoxia</text>
<rect x="463.9" y="196.9" width="5.5" height="5.5" fill="#c8c8c8" stroke="#6e6e6e" stroke-width="0.6"/>
<text x="471.5" y="202.7" font-size="8.1" font-family="DejaVu Sans, Liberation Sans, sans-serif" stroke="#111" stroke-width="0.2" fill="#111">Combined</text>
</svg></body></html>
